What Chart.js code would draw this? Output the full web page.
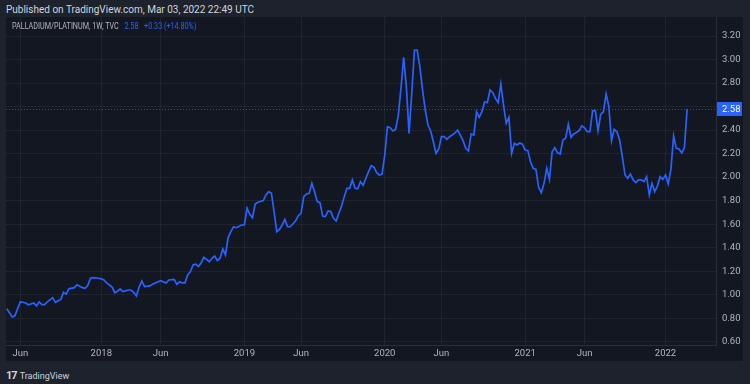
<!DOCTYPE html>
<html>
<head>
<meta charset="utf-8">
<script src="https://cdn.jsdelivr.net/npm/chart.js@4.4.1/dist/chart.umd.min.js"></script>
<style>
  html, body { margin: 0; padding: 0; }
  body {
    width: 750px; height: 384px; overflow: hidden; position: relative;
    background: #1e222d;
    font-family: Roboto, "Liberation Sans", sans-serif;
  }
  #published { position: absolute; left: 6px; top: 4px; font-size: 10px; color: #d1d4dc; }
  #pane { position: absolute; left: 6px; top: 17px; width: 737px; height: 344px; background: #131722; }
  #pane canvas { display: block; }
  #legend {
    position: absolute; left: 12px; top: 21px; font-size: 9px; color: #b2b5be; white-space: nowrap;
    transform: scaleX(0.8); transform-origin: left center;
  }
  #legend .blue { color: #2962ff; margin-left: 7px; }
  #footer { position: absolute; left: 6px; top: 369px; font-size: 9px; color: #d1d4dc; white-space: nowrap; }
  #footer b { font-size: 11px; letter-spacing: -1px; margin-right: 3px; }
</style>
</head>
<body>
<div id="published">Published on TradingView.com, Mar 03, 2022 22:49 UTC</div>
<div id="pane"><canvas id="ratioChart" width="737" height="344"></canvas></div>
<div id="legend">PALLADIUM/PLATINUM, 1W, TVC<span class="blue">2.58</span><span class="blue">+0.33 (+14.80%)</span></div>
<div id="footer"><b>17</b>TradingView</div>
<script>
// weeks counted from the week of 1 Jan 2018
var weekNo = [
  -35, -33, -32, -30, -28, -27, -25, -24, -23, -22, -21, -20, -18, -17, -15, -14, -13, -12, -10, -9, -7, -6, -5, -4, -3, -1,
  0, 1, 2, 4, 5, 6, 7, 8, 10, 11, 12, 13, 14, 15, 16, 18, 19, 20, 22, 24, 25, 27, 28, 29, 30, 31, 32, 33, 34, 35, 36, 37,
  38, 39, 40, 41, 42, 43, 44, 45, 46, 47, 48, 49, 50, 52,
  53, 54, 55, 56, 57, 58, 60, 61, 62, 63, 64, 65, 66, 67, 68, 69, 70, 72, 73, 74, 75, 76, 77, 78, 79, 80, 81, 82, 83, 84,
  85, 86, 87, 88, 89, 90, 91, 92, 93, 94, 95, 96, 97, 98, 99, 100, 101, 102, 103, 104,
  105, 106, 107, 108, 109, 110, 111, 112, 113, 114, 115, 116, 117, 118, 119, 120, 121, 122, 123, 124, 125, 126, 127, 128,
  129, 130, 131, 132, 133, 134, 135, 136, 137, 138, 139, 140, 141, 142, 143, 144, 145, 146, 147, 148, 149, 150, 151, 152,
  153, 154, 155, 156,
  157, 158, 159, 160, 161, 162, 163, 164, 165, 166, 167, 168, 169, 170, 171, 172, 173, 174, 175, 176, 177, 178, 179, 180,
  181, 182, 183, 184, 185, 186, 187, 188, 189, 190, 191, 192, 193, 194, 195, 196, 197, 198, 199, 200, 201, 202, 203, 204,
  205, 206, 207, 208,
  209, 210, 211, 212, 213, 214, 215, 216, 217
];
var ratio = [
  0.88, 0.81, 0.82, 0.94, 0.93, 0.915, 0.93, 0.905, 0.94, 0.915, 0.915, 0.94, 0.975, 0.935, 0.96, 1.02, 1.005, 1.05, 1.06, 1.085, 1.06, 1.055, 1.08, 1.14, 1.145, 1.14,
  1.135, 1.125, 1.10, 1.065, 1.017, 1.03, 1.05, 1.026, 1.04, 1.04, 1.02, 0.99, 1.065, 1.117, 1.07, 1.075, 1.088, 1.10, 1.12, 1.10, 1.125, 1.13, 1.088, 1.11, 1.10, 1.10, 1.168, 1.196, 1.253, 1.26, 1.24, 1.272,
  1.318, 1.30, 1.281, 1.31, 1.329, 1.29, 1.31, 1.389, 1.338, 1.488, 1.536, 1.578, 1.57, 1.593,
  1.593, 1.735, 1.684, 1.655, 1.771, 1.786, 1.80, 1.848, 1.876, 1.865, 1.706, 1.536, 1.555, 1.593, 1.641, 1.578, 1.578, 1.629, 1.672, 1.692, 1.834, 1.857, 1.862, 1.947, 1.876, 1.791, 1.783, 1.669, 1.664, 1.712,
  1.707, 1.65, 1.627, 1.692, 1.754, 1.834, 1.905, 1.905, 1.976, 1.905, 1.90, 1.961, 1.93, 1.99, 2.046, 2.097, 2.085, 2.038, 2.018, 2.025,
  2.188, 2.429, 2.42, 2.392, 2.405, 2.52, 2.755, 3.019, 2.769, 2.372, 2.713, 3.081, 3.081, 2.939, 2.741, 2.571, 2.443, 2.392, 2.301, 2.202, 2.24, 2.344, 2.344, 2.321,
  2.344, 2.358, 2.377, 2.40, 2.358, 2.31, 2.245, 2.222, 2.367, 2.358, 2.556, 2.509, 2.556, 2.641, 2.633, 2.741, 2.72, 2.67, 2.633, 2.792, 2.613, 2.458, 2.51, 2.202,
  2.287, 2.273, 2.29, 2.28,
  2.231, 2.225, 2.131, 2.075, 2.066, 1.913, 1.868, 1.947, 2.075, 1.981, 2.216, 2.25, 2.207, 2.197, 2.316, 2.33, 2.449, 2.339, 2.367, 2.38, 2.395, 2.437, 2.42, 2.386,
  2.386, 2.565, 2.565, 2.395, 2.534, 2.556, 2.707, 2.599, 2.307, 2.407, 2.386, 2.316, 2.174, 2.018, 1.99, 2.027, 1.976, 1.953, 1.976, 1.976, 1.962, 2.004, 1.848, 1.947,
  1.876, 1.924, 2.004, 1.981,
  2.018, 1.943, 2.066, 2.35, 2.245, 2.24, 2.207, 2.25, 2.58
];
var xTickWeeks = [-30, 0, 22, 53, 74, 105, 126, 157, 179, 209];
var xTickText = ['Jun', '2018', 'Jun', '2019', 'Jun', '2020', 'Jun', '2021', 'Jun', '2022'];
var yTicks = [0.6, 0.8, 1.0, 1.2, 1.4, 1.6, 1.8, 2.0, 2.2, 2.4, 2.6, 2.8, 3.0, 3.2];

var gridColor = 'rgba(42, 46, 57, 0.55)';
var axisColor = '#2a2e39';
var textColor = '#b2b5be';
var lineBlue = '#2962ff';
var tickFont = { family: '"Liberation Sans Narrow", Roboto, sans-serif', size: 9.5 };

Chart.defaults.font.family = 'Roboto, "Liberation Sans", sans-serif';
Chart.defaults.font.size = 10;

var lastPrice = {
    id: 'lastPrice',
    beforeDatasetsDraw: function(chart) {
        var ctx = chart.ctx, area = chart.chartArea;
        var y = Math.round(chart.scales.y.getPixelForValue(ratio[ratio.length - 1])) + 0.5;
        ctx.save();
        ctx.strokeStyle = 'rgba(41, 98, 255, 0.75)';
        ctx.lineWidth = 1;
        ctx.setLineDash([1, 2]);
        ctx.beginPath();
        ctx.moveTo(area.left, y);
        ctx.lineTo(area.right, y);
        ctx.stroke();
        ctx.restore();
    },
    afterDraw: function(chart) {
        var ctx = chart.ctx, area = chart.chartArea;
        var v = ratio[ratio.length - 1];
        var y = Math.round(chart.scales.y.getPixelForValue(v));
        ctx.save();
        ctx.fillStyle = lineBlue;
        ctx.fillRect(area.right + 1, y - 7, 25, 14);
        ctx.fillStyle = '#ffffff';
        ctx.font = '9.5px "Liberation Sans Narrow", Roboto, sans-serif';
        ctx.textBaseline = 'middle';
        ctx.fillText(v.toFixed(2), area.right + 6, y + 0.5);
        ctx.restore();
    }
};

var points = weekNo.map(function(w, i) { return { x: w, y: ratio[i] }; });

var ctx = document.getElementById('ratioChart').getContext('2d');
var ratioChart = new Chart(ctx, {
    type: 'line',
    data: {
        datasets: [{
            label: 'PALLADIUM/PLATINUM',
            data: points,
            borderColor: lineBlue,
            borderWidth: 1.7,
            pointRadius: 0,
            tension: 0,
            fill: false
        }]
    },
    plugins: [lastPrice],
    options: {
        responsive: false,
        devicePixelRatio: 1,
        animation: false,
        layout: { padding: 0 },
        plugins: { legend: { display: false }, tooltip: { enabled: false } },
        scales: {
            x: {
                type: 'linear',
                min: -35.3,
                max: 227.7,
                afterBuildTicks: function(scale) {
                    scale.ticks = xTickWeeks.map(function(w) { return { value: w }; });
                },
                afterFit: function(scale) {
                    scale.height = 16;
                    scale.paddingLeft = 0;
                    scale.paddingRight = 0;
                },
                ticks: {
                    color: textColor,
                    font: tickFont,
                    padding: 3,
                    maxRotation: 0,
                    autoSkip: false,
                    callback: function(value) {
                        var i = xTickWeeks.indexOf(value);
                        return i >= 0 ? xTickText[i] : '';
                    }
                },
                grid: { color: gridColor, drawTicks: false },
                border: { color: axisColor }
            },
            y: {
                position: 'right',
                min: 0.5724,
                max: 3.3616,
                afterBuildTicks: function(scale) {
                    scale.ticks = yTicks.map(function(v) { return { value: v }; });
                },
                afterFit: function(scale) {
                    scale.width = 27;
                    scale.paddingTop = 0;
                    scale.paddingBottom = 0;
                },
                ticks: {
                    color: textColor,
                    font: tickFont,
                    padding: 6,
                    callback: function(value) { return value.toFixed(2); }
                },
                grid: { color: gridColor, drawTicks: false },
                border: { color: axisColor }
            }
        }
    }
});
</script>
</body>
</html>
